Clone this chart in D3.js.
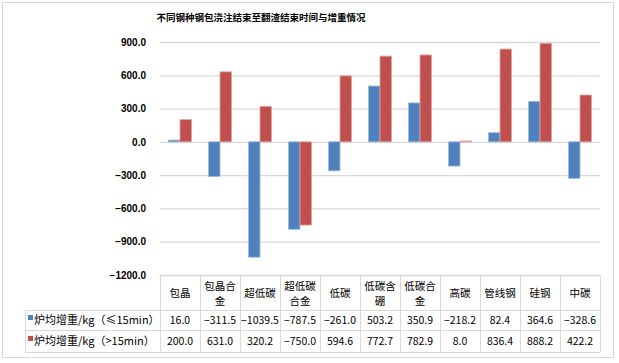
<!DOCTYPE html>
<html lang="zh">
<head>
<meta charset="UTF-8">
<title>不同钢种钢包浇注结束至翻渣结束时间与增重情况</title>
<script src="https://cdn.jsdelivr.net/npm/d3@7/dist/d3.min.js"></script>
<style>
  body { margin: 0; background: #fff; }
  svg { font-family: "Noto Sans CJK SC", sans-serif; }
</style>
</head>
<body>
<svg width="619" height="363"></svg>
<script>
var categories = ["包晶", "包晶合金", "超低碳", "超低碳合金", "低碳", "低碳含硼", "低碳合金", "高碳", "管线钢", "硅钢", "中碳"];
var headerLines = [["包晶"], ["包晶合", "金"], ["超低碳"], ["超低碳", "合金"], ["低碳"], ["低碳含", "硼"], ["低碳合", "金"], ["高碳"], ["管线钢"], ["硅钢"], ["中碳"]];
var seriesNames = ["炉均增重/kg（≤15min）", "炉均增重/kg（>15min）"];
var le15 = [16.0, -311.5, -1039.5, -787.5, -261.0, 503.2, 350.9, -218.2, 82.4, 364.6, -328.6];
var gt15 = [200.0, 631.0, 320.2, -750.0, 594.6, 772.7, 782.9, 8.0, 836.4, 888.2, 422.2];
var yTicks = [-1200, -900, -600, -300, 0, 300, 600, 900];
var colors = ["#4f81bd", "#c0504d"];
var strokes = ["#9cb8dc", "#e2a3a1"];

var svg = d3.select("svg");
var grid = "#d9d9d9";

// outer frame
svg.append("rect").attr("x", 2.5).attr("y", 2.5).attr("width", 611).attr("height", 355)
   .attr("fill", "#fff").attr("stroke", grid);

svg.append("text").attr("x", 261).attr("y", 21).attr("text-anchor", "middle")
   .attr("font-size", 9.5).attr("font-weight", "bold").text("不同钢种钢包浇注结束至翻渣结束时间与增重情况");

var plotLeft = 160, plotRight = 600, plotTop = 42, plotBottom = 275;

var x = d3.scaleBand().domain(categories).range([plotLeft, plotRight]);
var y = d3.scaleLinear().domain([-1200, 900]).range([plotBottom, plotTop]);
var xs = d3.scaleBand().domain([0, 1]).range([0, 23]);

// y axis + gridlines
var ax = svg.append("g").attr("transform", "translate(" + plotLeft + ",0)")
  .call(d3.axisLeft(y).tickValues(yTicks).tickFormat(d3.format(".1f"))
        .tickSizeInner(-(plotRight - plotLeft)).tickSizeOuter(0).tickPadding(14));
ax.select(".domain").remove();
ax.selectAll(".tick line").attr("stroke", grid).attr("stroke-width", 1.3);
ax.selectAll(".tick text").attr("font-size", 10).attr("font-weight", "bold")
  .attr("fill", "#000").attr("font-family", "Liberation Sans, Arial, sans-serif");

// bars
[le15, gt15].forEach(function(vals, s) {
  svg.append("g").selectAll("rect").data(vals).enter().append("rect")
    .attr("x", function(d, i) { return x(categories[i]) + x.bandwidth() / 2 - 11.5 + xs(s); })
    .attr("width", xs.bandwidth())
    .attr("y", function(d) { return y(Math.max(0, d)); })
    .attr("height", function(d) { return Math.abs(y(d) - y(0)); })
    .attr("fill", colors[s]).attr("stroke", strokes[s]).attr("stroke-width", 0.8);
});

// data table
var rowTop = [plotBottom, 310, 330, 352];
var tbl = svg.append("g").attr("stroke", grid).attr("fill", "none");
tbl.append("line").attr("x1", plotLeft).attr("x2", plotRight).attr("y1", rowTop[0] + 0.5).attr("y2", rowTop[0] + 0.5);
[1, 2, 3].forEach(function(r) {
  tbl.append("line").attr("x1", 25).attr("x2", plotRight).attr("y1", rowTop[r] + 0.5).attr("y2", rowTop[r] + 0.5);
});
tbl.append("line").attr("x1", 25.5).attr("x2", 25.5).attr("y1", rowTop[1]).attr("y2", rowTop[3]);
categories.concat([null]).forEach(function(c, i) {
  var xx = c === null ? plotRight : x(c);
  tbl.append("line").attr("x1", xx + 0.5).attr("x2", xx + 0.5).attr("y1", rowTop[0]).attr("y2", rowTop[3]);
});

// header labels
categories.forEach(function(c, i) {
  var lines = headerLines[i];
  var cx = x(c) + x.bandwidth() / 2;
  lines.forEach(function(t, k) {
    var yy = lines.length === 1 ? 297 : 290 + k * 15;
    svg.append("text").attr("x", cx).attr("y", yy).attr("text-anchor", "middle")
      .attr("font-size", 10.5).text(t);
  });
});

// legend + values
[le15, gt15].forEach(function(vals, s) {
  var yy = (rowTop[s + 1] + rowTop[s + 2]) / 2;
  svg.append("rect").attr("x", 28).attr("y", yy - 5).attr("width", 5).attr("height", 5).attr("fill", colors[s]);
  svg.append("text").attr("x", 34).attr("y", yy + 4).attr("font-size", 11)
    .text(seriesNames[s]);
  svg.append("g").selectAll("text").data(vals).enter().append("text")
    .attr("x", function(d, i) { return x(categories[i]) + x.bandwidth() / 2; })
    .attr("y", yy + 4).attr("text-anchor", "middle").attr("font-size", 10.5)
    .text(function(d) { return d3.format(".1f")(d); });
});
</script>
</body>
</html>
